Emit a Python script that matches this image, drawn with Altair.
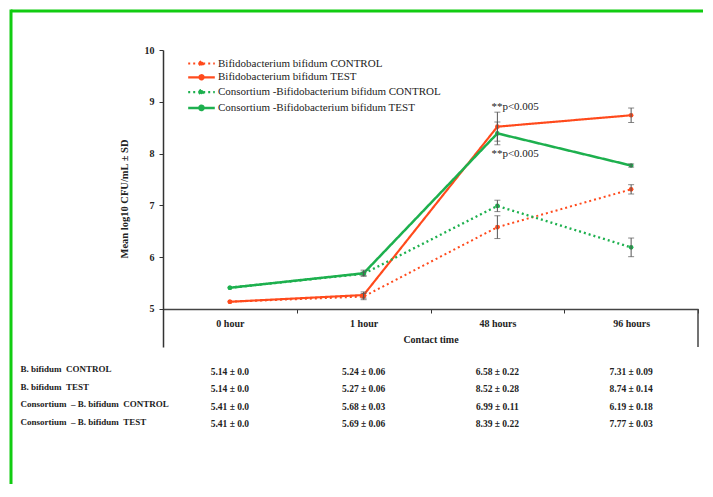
import altair as alt
import pandas as pd

categories = ["0 hour", "1 hour", "48 hours", "96 hours"]
series = [
    "Bifidobacterium bifidum CONTROL",
    "Bifidobacterium bifidum TEST",
    "Consortium -Bifidobacterium bifidum CONTROL",
    "Consortium -Bifidobacterium bifidum TEST",
]
table_labels = [
    "B. bifidum \u00a0CONTROL",
    "B. bifidum \u00a0TEST",
    "Consortium \u00a0\u2013 B. bifidum \u00a0CONTROL",
    "Consortium \u00a0\u2013 B. bifidum \u00a0TEST",
]
means = [
    [5.14, 5.24, 6.58, 7.31],
    [5.14, 5.27, 8.52, 8.74],
    [5.41, 5.68, 6.99, 6.19],
    [5.41, 5.69, 8.39, 7.77],
]
sds = [
    [0.0, 0.06, 0.22, 0.09],
    [0.0, 0.06, 0.28, 0.14],
    [0.0, 0.03, 0.11, 0.18],
    [0.0, 0.06, 0.22, 0.03],
]
colors = ["#FF4A1C", "#FF4A1C", "#1DB04E", "#1DB04E"]
dashes = [[2, 3], [1, 0], [2, 3], [1, 0]]
annot_text = ["**p<0.005", "**p<0.005"]
annot_cat = ["48 hours", "48 hours"]
annot_y = [8.90, 7.99]

rows = []
for si, s in enumerate(series):
    for ci, c in enumerate(categories):
        m, sd = means[si][ci], sds[si][ci]
        rows.append({
            "series": s, "time": c, "mean": m, "sd": sd,
            "lo": m - sd, "hi": m + sd,
            "row": table_labels[si],
            "cell": f"{m:.2f} \u00b1 " + ("0.0" if sd == 0 else f"{sd:.2f}"),
        })
df = pd.DataFrame(rows)
ann = pd.DataFrame({"text": annot_text, "time": annot_cat, "y": annot_y})

SERIF = "Liberation Serif"
W, H = 535, 297
YMIN, YMAX = 4.2664, 10

xenc = alt.X("time:N", sort=categories, bandPosition=0.5,
             scale=alt.Scale(type="band", domain=categories, paddingInner=0, paddingOuter=0),
             axis=alt.Axis(orient="bottom", offset=-38, tickBand="extent", tickSize=4,
                           tickColor="#333", domainColor="#444", domainWidth=1.5,
                           labelFont=SERIF, labelFontWeight="bold", labelFontSize=10,
                           labelColor="#222", labelPadding=5, labelAngle=0,
                           title="Contact time", titleFont=SERIF, titleFontWeight="bold",
                           titleFontSize=10, titleColor="#222", titlePadding=6))
yscale = alt.Scale(domain=[YMIN, YMAX], nice=False, zero=False)
yenc = alt.Y("mean:Q", scale=yscale,
             axis=alt.Axis(values=[5, 6, 7, 8, 9, 10], grid=False, tickSize=4,
                           tickColor="#333", domainColor="#333", domainWidth=1.5,
                           labelFont=SERIF, labelFontWeight="bold", labelFontSize=10,
                           labelColor="#222", labelPadding=5,
                           title="Mean log10 CFU/mL \u00b1 SD", titleFont=SERIF,
                           titleFontWeight="bold", titleFontSize=10.5, titleColor="#222",
                           titlePadding=15))

path = "M-3.8,0H3.8M-0.6,0a0.6,0.6 0 1,0 1.2,0a0.6,0.6 0 1,0 -1.2,0"
color = alt.Color("series:N", scale=alt.Scale(domain=series, range=colors),
                  legend=alt.Legend(orient="none", legendX=33, legendY=8, title=None,
                                    symbolType=path, symbolSize=49, symbolStrokeWidth=2,
                                    labelFont=SERIF, labelFontSize=11, labelColor="#222",
                                    labelOffset=11, rowPadding=0.8, labelLimit=0))
dash = alt.StrokeDash("series:N", scale=alt.Scale(domain=series, range=dashes), legend=None)
swidth = alt.StrokeWidth("series:N", scale=alt.Scale(domain=series, range=[2, 2.5, 2, 2.5]), legend=None)

base = alt.Chart(df)
lines = base.mark_line().encode(x=xenc, y=yenc, color=color, strokeDash=dash, strokeWidth=swidth)
points = base.mark_point(filled=True, size=22, opacity=1).encode(
    x=xenc, y="mean:Q",
    color=alt.Color("series:N", scale=alt.Scale(domain=series, range=colors), legend=None))
eb = base.transform_filter("datum.sd > 0")
err = eb.mark_rule(color="#555", strokeWidth=1).encode(x=xenc, y="lo:Q", y2="hi:Q")
cap_lo = eb.mark_tick(color="#555", size=6, thickness=1, orient="horizontal").encode(x=xenc, y="lo:Q")
cap_hi = eb.mark_tick(color="#555", size=6, thickness=1, orient="horizontal").encode(x=xenc, y="hi:Q")
annot = alt.Chart(ann).mark_text(font=SERIF, fontSize=11, color="#222", align="left", dx=-6).encode(
    x=alt.X("time:N", sort=categories, bandPosition=0.5), y="y:Q", text="text:N")

frame_df = pd.DataFrame({"k": [0]})
right_line = alt.Chart(frame_df).mark_rule(color="#444", strokeWidth=1.5).encode(
    x=alt.value(W), y=alt.datum(5), y2=alt.value(H))
green_top = alt.Chart(frame_df).mark_rule(color="#11CC11", strokeWidth=3).encode(
    x=alt.value(-152), x2=alt.value(540), y=alt.value(-39))
green_left = alt.Chart(frame_df).mark_rule(color="#11CC11", strokeWidth=3).encode(
    x=alt.value(-152), y=alt.value(-40.5), y2=alt.value(434))

top = alt.layer(green_top, green_left, right_line, lines, points, err, cap_lo, cap_hi, annot).resolve_scale(
    color="shared").properties(width=W, height=H)

table = alt.Chart(df).mark_text(font=SERIF, fontSize=9.5, fontWeight="bold", color="#222", dy=1).encode(
    x=alt.X("time:N", sort=categories,
            scale=alt.Scale(type="band", domain=categories, paddingInner=0, paddingOuter=0), axis=None),
    y=alt.Y("row:N", sort=table_labels, scale=alt.Scale(domain=table_labels, paddingInner=0, paddingOuter=0),
            axis=alt.Axis(title=None, ticks=False, tickSize=0, domain=False, labelAlign="left",
                          labelPadding=143, labelFont=SERIF, labelFontSize=9, labelFontWeight="bold",
                          labelColor="#222", labelBaseline="middle", labelOffset=-2)),
    text="cell:N",
).properties(width=W, height=70)

chart = alt.vconcat(top, table, spacing=15, bounds="flush").properties(
    padding={"left": 1, "top": 0, "right": 0, "bottom": 0}
).configure_view(stroke=None)

chart.save("out.html", embed_options={"renderer": "svg", "actions": False})
